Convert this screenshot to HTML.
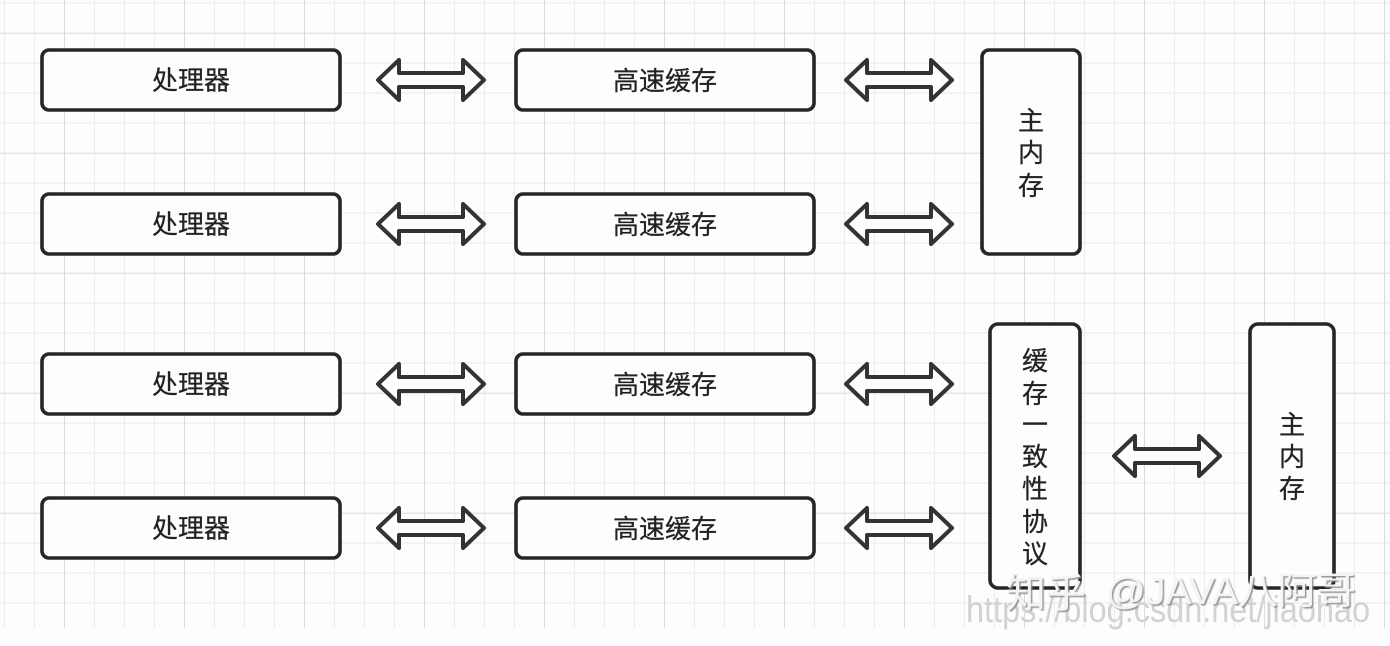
<!DOCTYPE html>
<html lang="zh">
<head>
<meta charset="utf-8">
<title>缓存一致性协议</title>
<style>
html,body{margin:0;padding:0;background:#fefdfe;}
body{width:1390px;height:646px;overflow:hidden;}
svg{display:block;filter:blur(0.35px);}
text{font-family:"Liberation Sans","Noto Sans CJK SC",sans-serif;}
.t{font-size:26px;fill:#222;stroke:#222;stroke-width:0.25;text-anchor:middle;}
.b{fill:#fefdfe;stroke:#262626;stroke-width:3.6;}
.a{fill:#fefdfe;stroke:#333;stroke-width:4;stroke-linejoin:round;}
</style>
</head>
<body>
<svg width="1390" height="646" viewBox="0 0 1390 646" xmlns="http://www.w3.org/2000/svg">
<defs>
<pattern id="vm" x="4" y="0" width="30" height="30" patternUnits="userSpaceOnUse"><rect x="0" y="0" width="1" height="30" fill="#ecebee"/></pattern>
<pattern id="vM" x="64" y="0" width="120" height="30" patternUnits="userSpaceOnUse"><rect x="0" y="0" width="1" height="30" fill="#dbd9de"/></pattern>
<pattern id="hm" x="0" y="2" width="30" height="30" patternUnits="userSpaceOnUse"><rect x="0" y="0" width="30" height="2" fill="#f3f2f4"/></pattern>
<pattern id="hM" x="0" y="33" width="30" height="120" patternUnits="userSpaceOnUse"><rect x="0" y="0" width="30" height="1" fill="#e6e4e8"/></pattern>
<path id="arr" class="a" d="M0 0L21 -20V-7H85V-20L106 0L85 20V7H21V20Z"/>
<filter id="sh" x="-5%" y="-20%" width="110%" height="140%"><feDropShadow dx="1.5" dy="1.5" stdDeviation="0.6" flood-color="#8a8a8a" flood-opacity="0.9"/></filter>
</defs>
<rect width="1390" height="646" fill="#fefdfe"/>
<rect x="0" y="0" width="1390" height="605" fill="url(#hm)"/>
<rect x="0" y="0" width="1390" height="605" fill="url(#hM)"/>
<rect x="0" y="0" width="1390" height="628" fill="url(#vm)"/>
<rect x="0" y="0" width="1390" height="628" fill="url(#vM)"/>

<rect class="b" x="42" y="50" width="298" height="60" rx="7"/>
<rect class="b" x="42" y="194" width="298" height="60" rx="7"/>
<rect class="b" x="42" y="354" width="298" height="60" rx="7"/>
<rect class="b" x="42" y="498" width="298" height="60" rx="7"/>
<rect class="b" x="516" y="50" width="298" height="60" rx="7"/>
<rect class="b" x="516" y="194" width="298" height="60" rx="7"/>
<rect class="b" x="516" y="354" width="298" height="60" rx="7"/>
<rect class="b" x="516" y="498" width="298" height="60" rx="7"/>
<rect class="b" x="982" y="50" width="98" height="204" rx="7"/>
<rect class="b" x="990" y="324" width="90" height="264" rx="8"/>
<rect class="b" x="1250" y="324" width="84" height="264" rx="8"/>

<use href="#arr" x="378" y="80"/>
<use href="#arr" x="378" y="224"/>
<use href="#arr" x="378" y="384"/>
<use href="#arr" x="378" y="528"/>
<use href="#arr" x="846" y="80"/>
<use href="#arr" x="846" y="224"/>
<use href="#arr" x="846" y="384"/>
<use href="#arr" x="846" y="528"/>
<use href="#arr" x="1114" y="456"/>

<text class="t" x="191" y="89.5">处理器</text>
<text class="t" x="191" y="233.5">处理器</text>
<text class="t" x="191" y="393.5">处理器</text>
<text class="t" x="191" y="537.5">处理器</text>
<text class="t" x="665" y="90">高速缓存</text>
<text class="t" x="665" y="234">高速缓存</text>
<text class="t" x="665" y="394">高速缓存</text>
<text class="t" x="665" y="538">高速缓存</text>

<text class="t" x="1031" y="130">主</text>
<text class="t" x="1031" y="162">内</text>
<text class="t" x="1031" y="195">存</text>

<text class="t" x="1035" y="370">缓</text>
<text class="t" x="1035" y="403">存</text>
<text class="t" x="1035" y="434">一</text>
<text class="t" x="1035" y="466">致</text>
<text class="t" x="1035" y="498">性</text>
<text class="t" x="1035" y="531">协</text>
<text class="t" x="1035" y="563">议</text>

<text class="t" x="1292" y="434">主</text>
<text class="t" x="1292" y="466">内</text>
<text class="t" x="1292" y="498">存</text>

<text x="966" y="622" font-size="37" fill="#d2d2d2" textLength="404" lengthAdjust="spacingAndGlyphs">https://blog.csdn.net/jiaohao</text>
<text x="1006" y="607" font-size="40" fill="#f4f4f4" filter="url(#sh)">知乎</text>
<text x="1106" y="604" font-size="38" fill="#f4f4f4" filter="url(#sh)" textLength="250" lengthAdjust="spacingAndGlyphs">@JAVA八阿哥</text>
</svg>
</body>
</html>
